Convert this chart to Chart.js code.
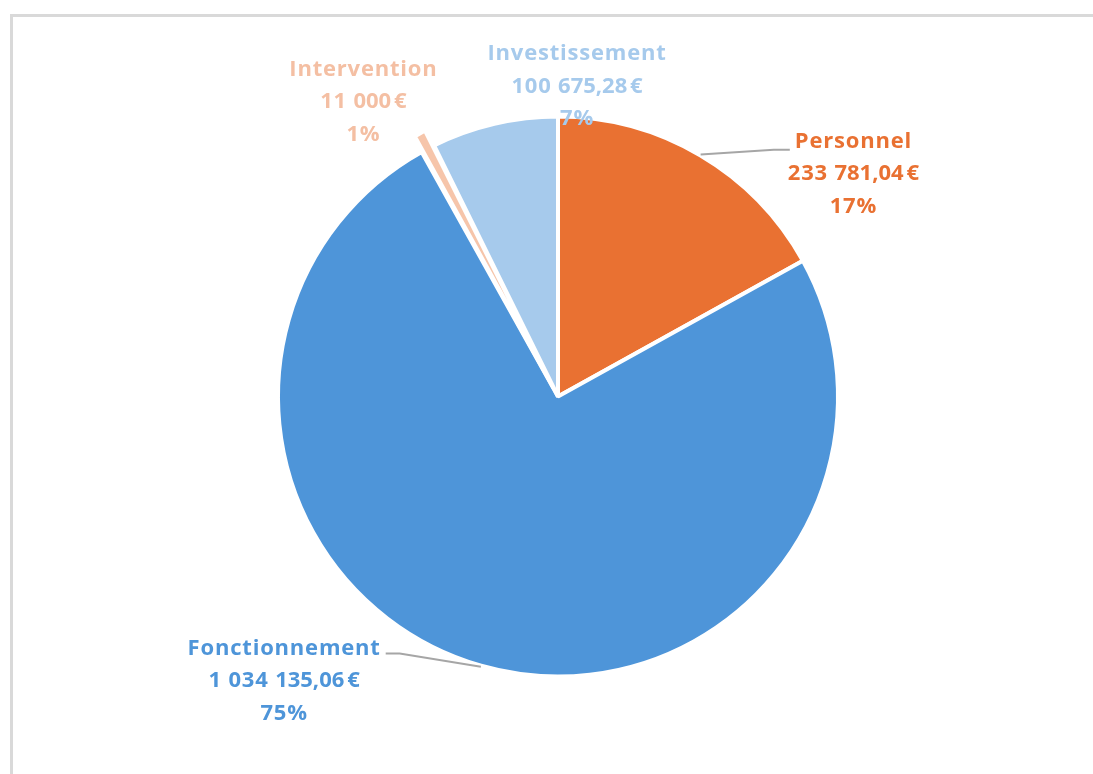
<!DOCTYPE html>
<html lang="fr">
<head>
<meta charset="utf-8">
<title>Répartition des dépenses</title>
<script src="https://cdn.jsdelivr.net/npm/chart.js@4.4.1/dist/chart.umd.min.js"></script>
<style>
    html, body { margin: 0; padding: 0; background: #ffffff; overflow: hidden; }
    #frame {
        position: absolute; left: 10px; top: 14px; width: 1200px; height: 900px;
        border-top: 3px solid #d9d9d9; border-left: 3px solid #d9d9d9;
    }
    #wrap { position: absolute; left: 0; top: 0; width: 1093px; height: 774px; }
</style>
</head>
<body>
<div id="frame"></div>
<div id="wrap"><canvas id="pieChart" width="1093" height="774"></canvas></div>
<script>
// data
const categories = ['Personnel', 'Fonctionnement', 'Intervention', 'Investissement'];
const amounts = [233781.04, 1034135.06, 11000, 100675.28];

// styles
const sliceColors = ['#E97132', '#4E95D9', '#F6C5AA', '#A6CAEC'];
const textColors = ['#E97132', '#4E95D9', '#F4BFA3', '#A6CAEC'];
// Chart.js moves an exploded arc out by roughly offset / 2
const sliceOffsets = [0, 0, 35, 0];
// label block centre, in units of the radius from the pie centre; leader side
const labelPlacement = [
    { dx: 1.055, dy: -0.794, leader: 'left' },
    { dx: -0.978, dy: 1.016, leader: 'right' },
    { dx: -0.695, dy: -1.051, leader: null },
    { dx: 0.068, dy: -1.108, leader: null }
];

const FONT = 'bold 22px "Open Sans", "DejaVu Sans", sans-serif';
const LINE_H = 32.5;

function formatEuro(v) {
    const parts = (Math.round(v * 100) / 100).toString().split('.');
    const intPart = parts[0].replace(/\B(?=(\d{3})+(?!\d))/g, ' ');
    let dec = parts[1] || '';
    if (dec.length === 1) dec += '0';
    return intPart + (dec ? ',' + dec : '') + '\u202F€';
}

const total = amounts.reduce((a, b) => a + b, 0);

// custom labels with leader lines (no datalabels plugin available)
const pieLabels = {
    id: 'pieLabels',
    afterDatasetsDraw(chart) {
        const ctx = chart.ctx;
        const meta = chart.getDatasetMeta(0);
        ctx.save();
        ctx.font = FONT;
        ctx.letterSpacing = '0.8px';
        ctx.textAlign = 'center';
        ctx.textBaseline = 'middle';
        meta.data.forEach((arc, i) => {
            const r = arc.outerRadius;
            const cx = arc.x, cy = arc.y;
            const place = labelPlacement[i];
            const lx = cx + place.dx * r;
            const ly = cy + place.dy * r;
            const lines = [
                categories[i],
                formatEuro(amounts[i]),
                Math.round(amounts[i] / total * 100) + '%'
            ];

            if (place.leader) {
                const mid = (arc.startAngle + arc.endAngle) / 2;
                const sx = cx + Math.cos(mid) * (r + 1);
                const sy = cy + Math.sin(mid) * (r + 1);
                const w = ctx.measureText(lines[0]).width;
                const y1 = ly - LINE_H;
                let ex, ey, kx;
                if (place.leader === 'left') {
                    ex = lx - w / 2 - 5; ey = y1 + 8; kx = ex - 16;
                } else {
                    ex = lx + w / 2 + 5; ey = y1 + 5; kx = ex + 14;
                }
                ctx.strokeStyle = '#a6a6a6';
                ctx.lineWidth = 2;
                ctx.beginPath();
                ctx.moveTo(sx, sy);
                ctx.lineTo(kx, ey);
                ctx.lineTo(ex, ey);
                ctx.stroke();
            }

            ctx.fillStyle = textColors[i];
            lines.forEach((t, k) => {
                ctx.fillText(t, lx, ly + (k - 1) * LINE_H);
            });
        });
        ctx.restore();
    }
};

new Chart(document.getElementById('pieChart'), {
    type: 'pie',
    data: {
        labels: categories,
        datasets: [{
            data: amounts,
            backgroundColor: sliceColors,
            borderColor: '#ffffff',
            borderWidth: 4,
            offset: sliceOffsets
        }]
    },
    options: {
        responsive: false,
        animation: false,
        layout: { padding: { top: 97, bottom: 78, left: 23, right: 0 } },
        plugins: {
            legend: { display: false },
            tooltip: { enabled: false }
        }
    },
    plugins: [pieLabels]
});
</script>
</body>
</html>
